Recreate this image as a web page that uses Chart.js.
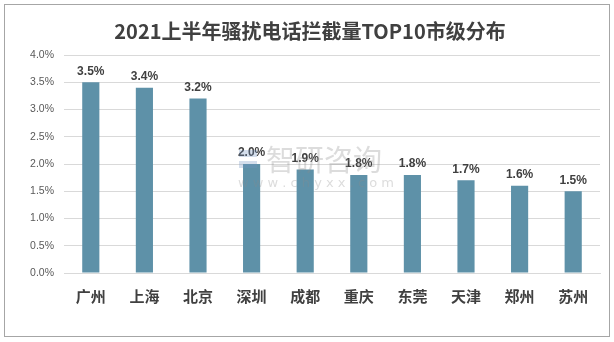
<!DOCTYPE html>
<html>
<head>
<meta charset="utf-8">
<script src="https://cdn.jsdelivr.net/npm/chart.js@4.4.0/dist/chart.umd.min.js"></script>
<style>
  html, body { margin: 0; padding: 0; background: #fff; }
  .frame {
    position: absolute; left: 4px; top: 4px;
    width: 606px; height: 333px;
    border: 1px solid #a6a6a6; box-sizing: border-box;
  }
  canvas { position: absolute; left: 0; top: 0; }
</style>
</head>
<body>
<div class="frame"></div>
<canvas id="chart" width="614" height="342"></canvas>
<script>
const cities = ['广州', '上海', '北京', '深圳', '成都', '重庆', '东莞', '天津', '郑州', '苏州'];
const shares = [3.5, 3.4, 3.2, 2.0, 1.9, 1.8, 1.8, 1.7, 1.6, 1.5];
const yTicks = [0, 0.5, 1.0, 1.5, 2.0, 2.5, 3.0, 3.5, 4.0];

const fontCJK = '"Microsoft YaHei", "Noto Sans CJK SC", sans-serif';

// value labels above each bar
const barLabels = {
  id: 'barLabels',
  afterDatasetsDraw(chart) {
    const ctx = chart.ctx;
    const meta = chart.getDatasetMeta(0);
    ctx.save();
    ctx.font = 'bold 12px "Liberation Sans", Arial, sans-serif';
    ctx.fillStyle = '#404040';
    ctx.textAlign = 'center';
    ctx.textBaseline = 'bottom';
    meta.data.forEach((bar, i) => {
      ctx.fillText(shares[i].toFixed(1) + '%', bar.x, bar.y - 5);
    });
    ctx.restore();
  }
};

// faint site mark over the middle of the plot
const siteMark = {
  id: 'siteMark',
  afterDraw(chart) {
    const ctx = chart.ctx;
    ctx.save();
    ctx.globalAlpha = 0.3;
    ctx.fillStyle = '#8c8c8c';
    ctx.font = '29px ' + fontCJK;
    ctx.textBaseline = 'middle';
    ctx.fillText('智研咨询', 266, 160);
    ctx.font = '13px "DejaVu Sans", sans-serif';
    ctx.fillText('w w w . c h y x x . c o m', 238, 184);
    ctx.fillStyle = '#6f93bf';
    ctx.fillRect(239, 150, 18, 7);
    ctx.fillRect(239, 161, 18, 7);
    ctx.restore();
  }
};

new Chart(document.getElementById('chart'), {
  type: 'bar',
  data: {
    labels: cities,
    datasets: [{
      data: shares,
      backgroundColor: '#5e91a8',
      barPercentage: 0.64,
      categoryPercentage: 0.5
    }]
  },
  options: {
    responsive: false,
    animation: false,
    layout: { padding: { left: 6, right: 0, top: 0, bottom: 31 } },
    plugins: {
      legend: { display: false },
      tooltip: { enabled: false },
      title: {
        display: true,
        text: '2021上半年骚扰电话拦截量TOP10市级分布',
        color: '#404040',
        font: { family: fontCJK, size: 20, weight: 'bold' },
        padding: { top: 19, bottom: 12 }
      }
    },
    scales: {
      x: {
        grid: { display: false },
        border: { color: '#d9d9d9' },
        ticks: {
          color: '#404040',
          font: { family: fontCJK, size: 15, weight: 'bold' },
          padding: 6
        }
      },
      y: {
        min: 0,
        max: 4.0,
        afterBuildTicks(axis) {
          axis.ticks = yTicks.map(v => ({ value: v }));
        },
        afterFit(axis) {
          axis.width = 58;
        },
        grid: { color: '#d9d9d9', drawTicks: false },
        border: { display: false },
        ticks: {
          color: '#595959',
          font: { family: '"Liberation Sans", Arial, sans-serif', size: 10.5 },
          padding: 10,
          callback: v => v.toFixed(1) + '%'
        }
      },
      // empty right margin so the title centres over the whole frame
      yRight: {
        position: 'right',
        grid: { display: false },
        border: { display: false },
        ticks: { display: false },
        afterFit(axis) {
          axis.width = 14;
        }
      }
    }
  },
  plugins: [barLabels, siteMark]
});
</script>
</body>
</html>
